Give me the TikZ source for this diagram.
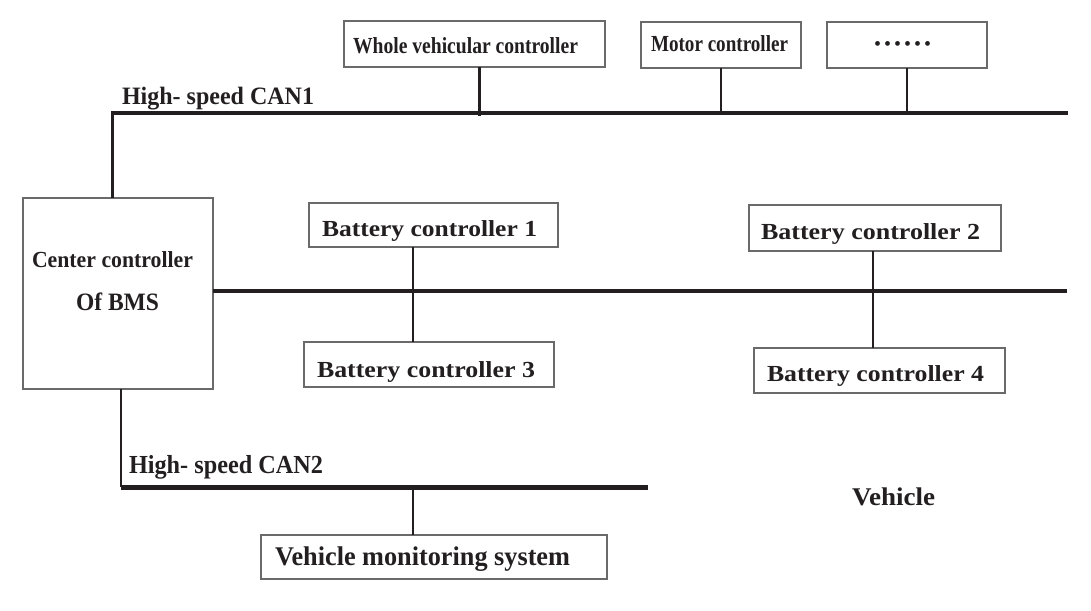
\documentclass[tikz,border=0pt]{standalone}
\usepackage{fontspec}
\setmainfont{Liberation Serif}
\usepackage{graphicx}
\definecolor{ink}{HTML}{231F20}
\definecolor{boxgray}{HTML}{6A6A6A}
\newcommand{\fitw}[2]{\resizebox{#1}{\height}{#2}}
\begin{document}
\begin{tikzpicture}[x=1pt,y=-1pt,
  box/.style={draw=boxgray, line width=1.1pt, inner sep=0pt, outer sep=0pt},
  lbl/.style={inner sep=0pt, outer sep=0pt, anchor=base west, text=ink},
  busline/.style={draw=ink, line width=4.5pt},
  stubline/.style={draw=ink, line width=2.6pt}]
\useasboundingbox (0,0) rectangle (1091,610);
% boxes
\node[box, minimum width=261pt, minimum height=46pt] (whole) at (474.5,44) {};
\node[box, minimum width=160pt, minimum height=46pt] (motor) at (721,45) {};
\node[box, minimum width=160pt, minimum height=46pt] (dots) at (907,45) {};
\node[box, minimum width=190pt, minimum height=191pt] (center) at (118,293.5) {};
\node[box, minimum width=249pt, minimum height=44pt] (bc1) at (433.5,225) {};
\node[box, minimum width=250pt, minimum height=45pt] (bc3) at (429,364.5) {};
\node[box, minimum width=252pt, minimum height=46pt] (bc2) at (875,228) {};
\node[box, minimum width=251pt, minimum height=45pt] (bc4) at (879.5,370.5) {};
\node[box, minimum width=346pt, minimum height=44pt] (vms) at (434,557) {};
% texts
\node[lbl, font=\fontsize{23}{27}\selectfont\bfseries] (twhole) at (353,53) {\fitw{225pt}{Whole vehicular controller}};
\node[lbl, font=\fontsize{23}{27}\selectfont\bfseries] (tmotor) at (651,52) {\fitw{137pt}{Motor controller}};
\node[lbl, font=\fontsize{20}{24}\selectfont] (tdots) at (874,51) {•\kern3pt•\kern3pt•\kern3pt•\kern3pt•\kern3pt•};
\node[lbl, font=\fontsize{25}{29}\selectfont\bfseries] (tcan1) at (122,104) {\fitw{192pt}{High- speed CAN1}};
\node[lbl, font=\fontsize{23}{27}\selectfont\bfseries] (tcen1) at (32,267) {\fitw{161pt}{Center controller}};
\node[lbl, font=\fontsize{25}{29}\selectfont\bfseries] (tcen2) at (76,310) {\fitw{83pt}{Of BMS}};
\node[lbl, font=\fontsize{23}{27}\selectfont\bfseries] (tbc1) at (322,236) {\fitw{215pt}{Battery controller 1}};
\node[lbl, font=\fontsize{23}{27}\selectfont\bfseries] (tbc3) at (317,377) {\fitw{218pt}{Battery controller 3}};
\node[lbl, font=\fontsize{23}{27}\selectfont\bfseries] (tbc2) at (761,239) {\fitw{219pt}{Battery controller 2}};
\node[lbl, font=\fontsize{23}{27}\selectfont\bfseries] (tbc4) at (767,381) {\fitw{217pt}{Battery controller 4}};
\node[lbl, font=\fontsize{26}{30}\selectfont\bfseries] (tcan2) at (129,473) {\fitw{194pt}{High- speed CAN2}};
\node[lbl, font=\fontsize{27}{31}\selectfont\bfseries] (tvms) at (275,565) {\fitw{295pt}{Vehicle monitoring system}};
\node[lbl, font=\fontsize{25.5}{30}\selectfont\bfseries] (tveh) at (852,505) {\fitw{83pt}{Vehicle}};
% bus coordinates
\coordinate (can1L) at (112,113);
\coordinate (can1R) at (1068,113);
\coordinate (midR) at (1067,291);
\coordinate (can2L) at (121,487);
\coordinate (can2R) at (648,487);
\coordinate (wx) at (479,116);
\coordinate (b1x) at (413,291);
\coordinate (b2x) at (873,291);
\coordinate (vx) at (413,487);
% CAN1
\draw[stubline, line width=3pt] (center.north -| can1L) -- (can1L);
\draw[busline] ([xshift=-1.5pt]can1L) -- (can1R);
\draw[stubline, line width=3pt] (wx |- whole.south) -- (wx);
\draw[stubline] (motor.south) -- (motor.south |- can1L);
\draw[stubline] (dots.south) -- (dots.south |- can1L);
% middle bus
\draw[busline, line width=4pt] (center.east |- midR) -- (midR);
\draw[stubline] (b1x |- bc1.south) -- (b1x |- bc3.north);
\draw[stubline] (b2x |- bc2.south) -- (b2x |- bc4.north);
% CAN2
\draw[stubline] (can2L |- center.south) -- (can2L);
\draw[busline, line width=5pt] (can2L) -- (can2R);
\draw[stubline] (vx) -- (vx |- vms.north);
\end{tikzpicture}
\end{document}
